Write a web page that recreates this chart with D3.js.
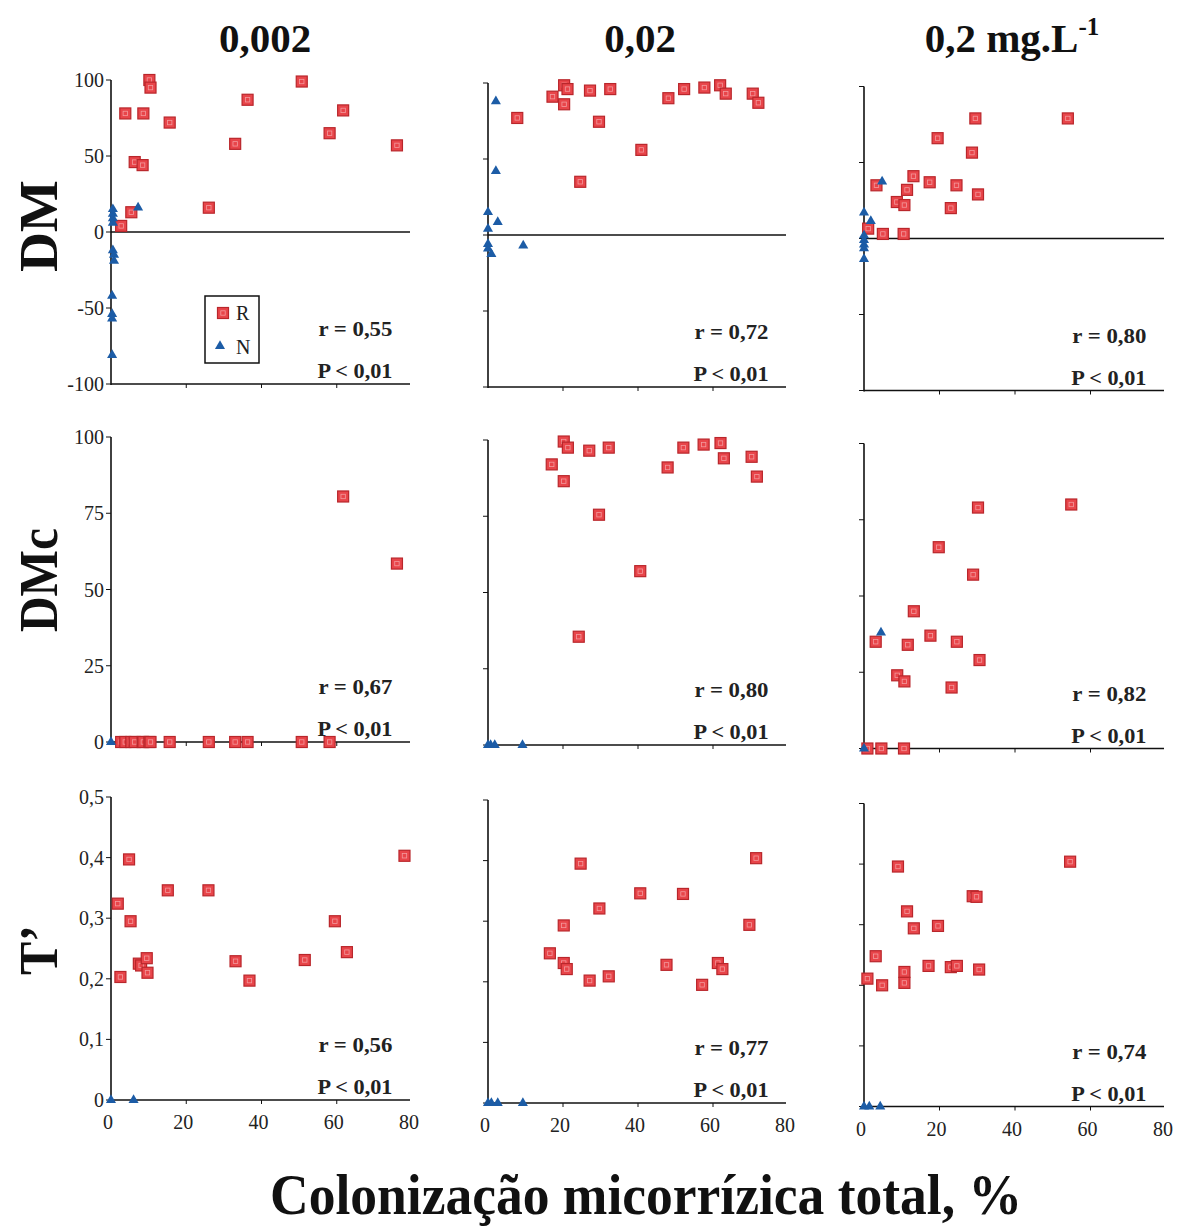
<!DOCTYPE html>
<html><head><meta charset="utf-8">
<script src="https://cdn.jsdelivr.net/npm/d3@7"></script>
<style>body{margin:0;background:#fff}svg{display:block}</style>
</head><body>
<script>
// ---------- DATA ----------
const concentrations = ["0,002", "0,02", "0,2 mg.L"];
const variables = ["DM", "DMc", "T\u2019"];
const xTicks = [0, 20, 40, 60, 80];
const yTicksDM = [-100, -50, 0, 50, 100];
const yTicksDMc = [0, 25, 50, 75, 100];
const yTicksT = [0, 0.1, 0.2, 0.3, 0.4, 0.5];
const rValues = [["0,55", "0,72", "0,80"], ["0,67", "0,80", "0,82"], ["0,56", "0,77", "0,74"]];
const pText = "P < 0,01";

const DM_002_R = [[2.7,4],[3.8,78],[5.4,13],[6.3,46],[8.4,44],[8.6,78],[10.2,100],[10.5,95],[15.6,72],[26,16],[33,58],[36.3,87],[50.7,99],[58.1,65],[61.7,80],[76,57]];
const DM_002_N = [[0.5,15],[0.5,12],[0.5,9],[0.5,6],[0.5,-12],[0.8,-15],[0.8,-19],[0.3,-42],[0.3,-54],[0.3,-57],[0.3,-81],[7.2,16]];
const DM_02_R = [[7.8,77],[17.2,91],[20.3,98.5],[21.2,96],[20.3,86],[24.6,35],[27.2,95],[29.6,74.5],[32.6,96],[40.9,56],[48.1,90],[52.3,96],[57.7,97],[61.9,98.5],[63.4,93],[70.6,93],[72.1,87]];
const DM_02_N = [[2.1,88],[2.1,42],[0,15],[2.6,8.5],[0,4],[0,-6],[0,-9],[0.9,-12.5],[9.4,-7]];
const DM_2_R = [[1.1,6.5],[3.3,35],[5,3],[8.7,24],[10.7,22],[10.5,3],[11.4,32],[13.1,41],[17.4,37],[19.5,66],[23,20],[24.5,35],[28.6,56.5],[29.5,79],[30.2,29],[54,79]];
const DM_2_N = [[4.8,37.5],[0,17],[1.8,11.5],[0,2],[0,-1],[0,-4],[0,-6.5],[0,-13.5]];

const DMc_002_R = [[2.7,0],[3.8,0],[5.4,0],[6.3,0],[8.4,0],[8.6,0],[10.2,0],[10.5,0],[15.6,0],[26,0],[33,0],[36.3,0],[50.7,0],[58.1,0],[61.7,80.5],[76,58.5]];
const DMc_002_N = [[0,0]];
const DMc_02_R = [[17,92],[20.2,99.5],[21.3,97.5],[20.2,86.5],[24.2,35.5],[27,96.5],[29.6,75.5],[32.2,97.5],[40.6,57],[47.9,91],[52.1,97.5],[57.5,98.5],[62,99],[62.9,94],[70.3,94.5],[71.7,88]];
const DMc_02_N = [[0,0],[0.7,0],[1.8,0],[9.2,0]];
const DMc_2_R = [[0.9,0],[4.6,0],[10.6,0],[3.1,35],[11.6,34],[8.8,24],[10.7,22],[13.2,45],[17.6,37],[19.8,66],[23.2,20],[24.6,35],[28.9,57],[30.2,79],[30.6,29],[54.9,80]];
const DMc_2_N = [[4.5,38],[0,0]];

const T_002_R = [[1.8,0.324],[2.5,0.203],[4.8,0.397],[5.2,0.295],[7.4,0.225],[8,0.222],[9.5,0.234],[9.7,0.21],[15.1,0.346],[25.9,0.346],[33.1,0.229],[36.8,0.197],[51.5,0.231],[59.5,0.295],[62.7,0.244],[78,0.403]];
const T_002_N = [[0,0],[6,0]];
const T_02_R = [[16.5,0.247],[20.2,0.293],[20.2,0.231],[21,0.221],[24.7,0.395],[27.1,0.202],[29.7,0.321],[32.2,0.209],[40.6,0.346],[47.6,0.228],[52,0.345],[57.1,0.195],[61.3,0.231],[62.5,0.221],[69.7,0.294],[71.5,0.404]];
const T_02_N = [[0,0],[0.9,0],[2.6,0],[9.3,0]];
const T_2_R = [[0.9,0.211],[3.1,0.248],[4.8,0.2],[9,0.396],[10.7,0.222],[10.7,0.204],[11.4,0.322],[13.2,0.294],[17.1,0.232],[19.6,0.298],[23,0.23],[24.6,0.232],[28.8,0.347],[29.8,0.346],[30.5,0.226],[54.6,0.404]];
const T_2_N = [[0,0],[1.4,0],[4.3,0]];

const panelData = [
  [[DM_002_R, DM_002_N], [DM_02_R, DM_02_N], [DM_2_R, DM_2_N]],
  [[DMc_002_R, DMc_002_N], [DMc_02_R, DMc_02_N], [DMc_2_R, DMc_2_N]],
  [[T_002_R, T_002_N], [T_02_R, T_02_N], [T_2_R, T_2_N]]
];

// ---------- LAYOUT ----------
const W = 1183, H = 1226;
const serif = "'Liberation Serif','Times New Roman',serif";
const cols = [{x0:111,x1:412},{x0:488,x1:788},{x0:864,x1:1166}];
const colShift = [0, 3, 6.5];
const rows = [{top:80,bottom:384},{top:437,bottom:742},{top:797,bottom:1100}];
const yDomains = [[-100,100],[0,100],[0,0.5]];
const yTickSets = [yTicksDM, yTicksDMc, yTicksT];
const fmt = v => String(v).replace(".", ",");

const RED_FILL = "#e8454a", RED_STROKE = "#b9262b", BLUE = "#1c5ca6";

const svg = d3.select("body").append("svg").attr("width", W).attr("height", H)
  .style("font-family", serif);

function drawSquare(g, x, y) {
  g.append("rect").attr("x", x-5.5).attr("y", y-5.5).attr("width", 11).attr("height", 11)
    .attr("fill", RED_FILL).attr("stroke", RED_STROKE).attr("stroke-width", 1.2);
  g.append("rect").attr("x", x-2.2).attr("y", y-2.2).attr("width", 4.4).attr("height", 4.4)
    .attr("fill", "none").attr("stroke", "#f39a9d").attr("stroke-width", 0.8);
}
const tri = d3.symbol().type(d3.symbolTriangle).size(44);

for (let r = 0; r < 3; r++) {
  for (let c = 0; c < 3; c++) {
    const top = rows[r].top + colShift[c], bottom = rows[r].bottom + colShift[c];
    const x = d3.scaleLinear().domain([0, 80]).range([cols[c].x0, cols[c].x1]);
    const y = d3.scaleLinear().domain(yDomains[r]).range([bottom, top]);
    const g = svg.append("g");
    const line = (x1,y1,x2,y2,w) => g.append("line").attr("x1",x1).attr("y1",y1).attr("x2",x2).attr("y2",y2)
      .attr("stroke","#111").attr("stroke-width",w||1.6);

    // y axis
    line(x(0), y(yDomains[r][1]), x(0), y(yDomains[r][0]) + 1);
    yTickSets[r].forEach(t => {
      line(x(0) - 5, y(t), x(0), y(t), 1);
      if (c === 0) {
        g.append("text").attr("x", x(0) - 7).attr("y", y(t)).attr("dy", "0.35em")
          .attr("text-anchor", "end").attr("font-size", 20).attr("fill", "#222").text(fmt(t));
      }
    });
    // x axes
    const base = y(yDomains[r][0]);
    line(x(0), base, x(80) - 2, base);
    if (r === 0) line(x(0), y(0), x(80) - 2, y(0));
    xTicks.slice(1, 4).forEach(t => line(x(t), base, x(t), base + 4, 1));
    if (r === 2) {
      xTicks.forEach(t => g.append("text").attr("x", x(t) - 3).attr("y", base + 29)
        .attr("text-anchor", "middle").attr("font-size", 20).attr("fill", "#222").text(t));
    }

    // points
    const [R, N] = panelData[r][c];
    R.forEach(d => drawSquare(g, x(d[0]), y(d[1])));
    N.forEach(d => g.append("path").attr("d", tri)
      .attr("transform", `translate(${x(d[0])},${y(d[1])})`).attr("fill", BLUE));

    // annotations
    const ax = x(74.8);
    g.append("text").attr("x", ax - 74).attr("y", bottom - 48)
      .attr("font-size", 20).attr("font-weight", "bold").attr("fill", "#222")
      .attr("textLength", 74).attr("lengthAdjust", "spacingAndGlyphs").text("r = " + rValues[r][c]);
    g.append("text").attr("x", ax - 75).attr("y", bottom - 6)
      .attr("font-size", 20).attr("font-weight", "bold").attr("fill", "#222")
      .attr("textLength", 75).attr("lengthAdjust", "spacingAndGlyphs").text(pText);

    // legend
    if (r === 0 && c === 0) {
      g.append("rect").attr("x", 205).attr("y", 296).attr("width", 54).attr("height", 67)
        .attr("fill", "#fff").attr("stroke", "#111").attr("stroke-width", 1.5);
      drawSquare(g, 223, 313);
      g.append("text").attr("x", 236).attr("y", 320).attr("font-size", 20).attr("fill", "#222").text("R");
      g.append("path").attr("d", tri).attr("transform", "translate(220,346)").attr("fill", BLUE);
      g.append("text").attr("x", 236).attr("y", 354).attr("font-size", 20).attr("fill", "#222").text("N");
    }
  }
}

// column titles
const titleX = [265, 640, 1012];
concentrations.forEach((t, i) => {
  const tx = svg.append("text").attr("x", titleX[i]).attr("y", 52).attr("text-anchor", "middle")
    .attr("font-size", 41).attr("font-weight", "bold").attr("fill", "#111");
  tx.append("tspan").text(t);
  if (i === 2) tx.append("tspan").attr("dy", -17).attr("font-size", 25).text("-1");
});

// row labels
const rowLabels = [{cy:226, len:92}, {cy:580, len:104}, {cy:950, len:50}];
variables.forEach((t, i) => {
  svg.append("text").attr("transform", `translate(57,${rowLabels[i].cy}) rotate(-90)`)
    .attr("x", -rowLabels[i].len / 2)
    .attr("font-size", 55).attr("font-weight", "bold")
    .attr("textLength", rowLabels[i].len).attr("lengthAdjust", "spacingAndGlyphs")
    .attr("fill", "#111").text(t);
});

// x title
svg.append("text").attr("x", 270).attr("y", 1214)
  .attr("font-size", 56).attr("font-weight", "bold").attr("fill", "#111")
  .attr("textLength", 752).attr("lengthAdjust", "spacingAndGlyphs")
  .text("Colonização micorrízica total, %");
</script>
</body></html>
